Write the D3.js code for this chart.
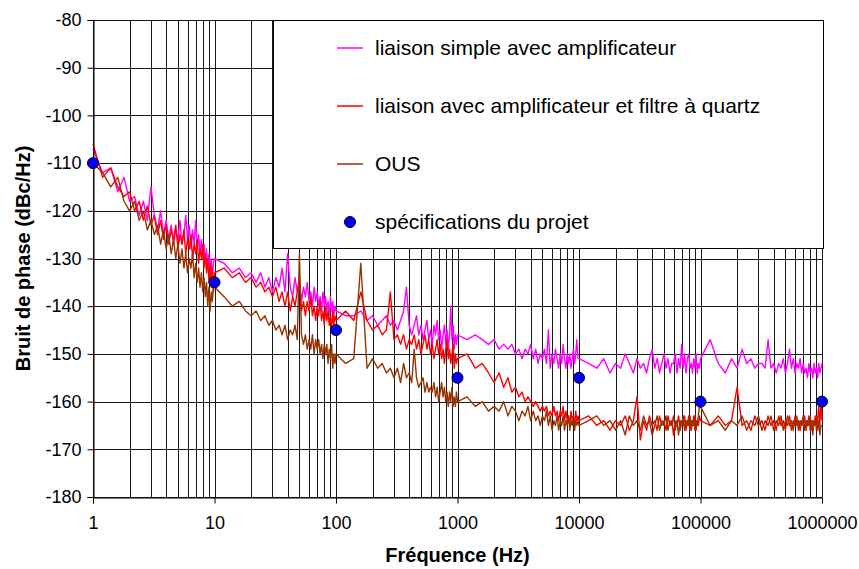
<!DOCTYPE html>
<html>
<head>
<meta charset="utf-8">
<script src="https://cdn.jsdelivr.net/npm/d3@7"></script>
<style>
  body { margin: 0; background: #fff; }
  text { font-family: "Liberation Sans", Arial, sans-serif; }
</style>
</head>
<body>
<script>
// frequency grid: linear steps inside each decade (analyser spans)
var decades = [1, 10, 100, 1000, 10000, 100000];
var mantissas = [1.0, 1.2, 1.4, 1.6, 1.8, 2.0, 2.2, 2.4, 2.6, 2.8,
                 3.0, 3.2, 3.4, 3.6, 3.8, 4.0, 4.2, 4.4, 4.6, 4.8,
                 5.0, 5.2, 5.4, 5.6, 5.8, 6.0, 6.2, 6.4, 6.6, 6.8,
                 7.0, 7.2, 7.4, 7.6, 7.8, 8.0, 8.2, 8.4, 8.6, 8.8,
                 9.0, 9.2, 9.4, 9.6, 9.8];
var lastFreq = 1000000;

var simpleAmp = [
  -107,-112,-111,-116,-113, -118,-117,-121,-118,-122, -115,-121,-124,-120,-125, -122,-126,-123,-127,-124, -126,-122,-127,-125,-121,
  -126,-123,-128,-124,-127, -122,-128,-125,-129,-126, -130,-127,-131,-128,-132, -129,-133,-130,-134,-131,
  -130,-131,-133,-132,-134, -133,-135,-133,-136,-134, -137,-134,-136,-132,-137, -129,-136,-138,-134,-137, -135,-139,-136,-138,-135,
  -139,-137,-140,-136,-139, -137,-140,-138,-141,-137, -140,-138,-141,-139,-142, -138,-141,-139,-142,-140,
  -141,-142,-142,-141,-143, -142,-144,-143,-142,-144, -143,-145,-143,-141,-136, -144,-146,-144,-142,-146, -144,-147,-145,-143,-147,
  -145,-148,-144,-146,-143, -147,-145,-149,-146,-144, -148,-145,-149,-146,-140, -147,-144,-149,-146,-148,
  -146,-147,-146,-147,-148, -147,-149,-148,-149,-148, -150,-149,-151,-149,-150, -148,-151,-149,-152,-150, -151,-149,-152,-145,-153,
  -150,-152,-149,-151,-153, -150,-152,-148,-151,-153, -150,-152,-150,-153,-151, -149,-152,-150,-147,-151,
  -151,-152,-153,-151,-154, -152,-153,-150,-152,-154, -151,-153,-152,-154,-151, -149,-153,-151,-154,-152, -150,-153,-151,-154,-152,
  -152,-150,-154,-151,-153, -148,-153,-150,-154,-151, -150,-153,-152,-154,-151, -153,-150,-154,-152,-153,
  -151,-147,-152,-154,-151, -153,-149,-152,-151,-153, -152,-152,-153,-147,-153, -152,-154,-152,-153,-151, -154,-152,-149,-153,-151,
  -154,-152,-153,-151,-154, -152,-154,-153,-155,-152, -154,-153,-155,-152,-154, -153,-155,-152,-154,-153,
  -152
];

var ampQuartz = [
  -106,-113,-111,-115,-117, -116,-120,-118,-122,-119, -123,-121,-125,-122,-126, -123,-127,-124,-126,-123, -128,-125,-127,-124,-129,
  -126,-128,-125,-130,-127, -129,-126,-131,-128,-130, -127,-132,-129,-133,-130, -135,-131,-136,-132,-137,
  -133,-132,-134,-133,-135, -134,-136,-135,-137,-136, -138,-136,-139,-137,-140, -137,-141,-138,-140,-137, -134,-141,-139,-142,-139,
  -141,-138,-142,-140,-143, -140,-142,-139,-143,-141, -144,-140,-143,-141,-144, -142,-145,-141,-144,-142,
  -143,-141,-143,-137,-143, -145,-144,-146,-145,-137, -147,-146,-148,-146,-149, -147,-148,-146,-149,-147, -150,-148,-146,-149,-147,
  -150,-148,-151,-149,-147, -150,-148,-151,-149,-152, -149,-147,-151,-149,-152, -150,-148,-153,-150,-152,
  -151,-150,-153,-152,-154, -156,-154,-157,-155,-158, -157,-159,-158,-160,-159, -160,-161,-160,-161,-162, -161,-162,-161,-163,-162,
  -163,-161,-163,-162,-164, -162,-163,-161,-164,-162, -164,-163,-165,-162,-164, -163,-165,-162,-164,-163,
  -164,-163,-165,-164,-166, -164,-165,-163,-166,-164, -159,-168,-164,-166,-163, -165,-164,-166,-163,-165, -164,-166,-163,-165,-164,
  -167,-164,-165,-163,-166, -164,-165,-163,-166,-164, -165,-163,-166,-164,-165, -163,-166,-164,-165,-163,
  -164,-165,-163,-165,-164, -157,-165,-164,-166,-163, -165,-164,-166,-163,-165, -164,-166,-163,-165,-164, -166,-163,-165,-164,-166,
  -163,-165,-164,-166,-164, -165,-163,-166,-164,-165, -163,-166,-164,-165,-163, -166,-164,-161,-165,-160,
  -164
];

var ous = [
  -110,-112,-115,-113,-118, -120,-118,-122,-120,-124, -122,-125,-123,-127,-124, -128,-125,-129,-126,-130, -127,-131,-128,-132,-129,
  -133,-130,-132,-129,-134, -131,-135,-132,-136,-133, -137,-134,-138,-135,-140, -136,-141,-137,-139,-136,
  -136,-138,-140,-139,-141, -142,-141,-143,-142,-144, -143,-145,-144,-146,-144, -147,-145,-146,-144,-147, -129,-146,-148,-146,-149,
  -147,-149,-146,-150,-147, -149,-147,-150,-148,-151, -148,-150,-148,-152,-149, -151,-148,-153,-150,-152,
  -150,-152,-151,-131,-153, -151,-153,-152,-154,-153, -155,-153,-156,-152,-155, -154,-156,-149,-155,-157, -156,-155,-158,-156,-158,
  -157,-158,-156,-159,-157, -160,-158,-156,-159,-157, -160,-158,-161,-158,-160, -157,-161,-159,-161,-158,
  -160,-159,-161,-160,-162, -161,-162,-160,-163,-161, -162,-164,-162,-163,-161, -164,-162,-164,-163,-165, -163,-164,-162,-165,-163,
  -166,-164,-165,-163,-166, -164,-165,-163,-166,-164, -165,-163,-166,-164,-165, -163,-166,-164,-165,-164,
  -165,-164,-163,-165,-164, -166,-164,-167,-163,-165, -164,-166,-163,-165,-164, -167,-165,-163,-166,-164, -165,-163,-166,-164,-165,
  -163,-166,-164,-167,-164, -165,-163,-166,-164,-165, -163,-166,-164,-165,-163, -166,-164,-165,-163,-161,
  -161,-165,-164,-166,-164, -165,-163,-166,-164,-165, -163,-166,-164,-165,-163, -166,-164,-165,-163,-166, -164,-165,-163,-166,-164,
  -165,-163,-166,-164,-165, -163,-166,-164,-165,-163, -166,-164,-167,-164,-165, -163,-166,-164,-167,-165,
  -165
];

var specFreq = [1, 10, 100, 1000, 10000, 100000, 1000000];
var specVal = [-110, -135, -145, -155, -155, -160, -160];

var xTickValues = [1, 10, 100, 1000, 10000, 100000, 1000000];
var yTickValues = [-180, -170, -160, -150, -140, -130, -120, -110, -100, -90, -80];

var seriesNames = ["liaison simple avec amplificateur",
                   "liaison avec amplificateur et filtre à quartz",
                   "OUS"];
var seriesColors = ["#ff00ff", "#ff0000", "#993300"];
var specName = "spécifications du projet";

function main() {
    var width = 859, height = 569;
    var left = 93, right = 822, top = 20, bottom = 497;

    var freqs = [];
    decades.forEach(function(d) {
        mantissas.forEach(function(m) { freqs.push(m * d); });
    });
    freqs.push(lastFreq);

    var x = d3.scaleLog().domain([1, 1000000]).range([left, right]);
    var y = d3.scaleLinear().domain([-180, -80]).range([bottom, top]);

    var svg = d3.select("body").append("svg")
        .attr("width", width).attr("height", height);

    // grid
    svg.append("g").selectAll("line")
        .data(x.ticks())
        .enter().append("line")
        .attr("x1", function(d) { return Math.round(x(d)) + 0.5; })
        .attr("x2", function(d) { return Math.round(x(d)) + 0.5; })
        .attr("y1", top).attr("y2", bottom)
        .attr("stroke", "#1a1a1a").attr("stroke-width", 1);

    svg.append("g").selectAll("line")
        .data(yTickValues)
        .enter().append("line")
        .attr("x1", left).attr("x2", right)
        .attr("y1", function(d) { return Math.round(y(d)) + 0.5; })
        .attr("y2", function(d) { return Math.round(y(d)) + 0.5; })
        .attr("stroke", "#1a1a1a").attr("stroke-width", 1);

    // curves
    var all = [simpleAmp, ampQuartz, ous];
    var line = d3.line()
        .x(function(d, i) { return x(freqs[i]); })
        .y(function(d) { return y(d); });

    all.forEach(function(vals, k) {
        svg.append("path")
            .datum(vals)
            .attr("d", line)
            .attr("fill", "none")
            .attr("stroke", seriesColors[k])
            .attr("stroke-width", 1.4)
            .attr("stroke-linejoin", "round");
    });

    // axes
    var xAxis = svg.append("g")
        .attr("transform", "translate(0," + (Math.round(bottom) + 0.5) + ")")
        .call(d3.axisBottom(x).tickValues(xTickValues)
              .tickFormat(d3.format("d")).tickSize(6).tickPadding(13));
    var yAxis = svg.append("g")
        .attr("transform", "translate(" + (left + 0.5) + ",0)")
        .call(d3.axisLeft(y).tickValues(yTickValues).tickSize(6).tickPadding(6)
              .tickFormat(function(d) { return "-" + Math.abs(d); }));

    [xAxis, yAxis].forEach(function(a) {
        a.selectAll("path, line").attr("stroke", "#000");
        a.selectAll("text")
            .attr("font-family", "Liberation Sans, Arial, sans-serif")
            .attr("font-size", "18px")
            .attr("fill", "#000");
    });

    // spec points
    svg.selectAll("circle.spec")
        .data(specVal)
        .enter().append("circle")
        .attr("class", "spec")
        .attr("cx", function(d, i) { return x(specFreq[i]); })
        .attr("cy", function(d) { return y(d); })
        .attr("r", 5.5)
        .attr("fill", "#0000ff")
        .attr("stroke", "#000")
        .attr("stroke-width", 1);

    // legend
    var lg = svg.append("g");
    lg.append("rect")
        .attr("x", 273.5).attr("y", 20.5)
        .attr("width", 550).attr("height", 228)
        .attr("fill", "#fff").attr("stroke", "#000");

    var rowY = [48, 106, 164, 222];
    seriesNames.forEach(function(name, k) {
        lg.append("line")
            .attr("x1", 337).attr("x2", 363)
            .attr("y1", rowY[k]).attr("y2", rowY[k])
            .attr("stroke", seriesColors[k]).attr("stroke-width", 1.5);
        lg.append("text")
            .attr("x", 375).attr("y", rowY[k] + 7)
            .attr("font-size", "21px")
            .text(name);
    });
    lg.append("circle")
        .attr("cx", 350).attr("cy", rowY[3]).attr("r", 5.5)
        .attr("fill", "#0000ff").attr("stroke", "#000");
    lg.append("text")
        .attr("x", 375).attr("y", rowY[3] + 7)
        .attr("font-size", "21px")
        .text(specName);

    // axis titles
    svg.append("text")
        .attr("x", (left + right) / 2).attr("y", 562)
        .attr("text-anchor", "middle")
        .attr("font-size", "20px").attr("font-weight", "bold")
        .text("Fréquence (Hz)");
    svg.append("text")
        .attr("transform", "translate(30," + ((top + bottom) / 2) + ") rotate(-90)")
        .attr("text-anchor", "middle")
        .attr("font-size", "20px").attr("font-weight", "bold")
        .text("Bruit de phase (dBc/Hz)");
}

window.onload = main;
</script>
</body>
</html>
